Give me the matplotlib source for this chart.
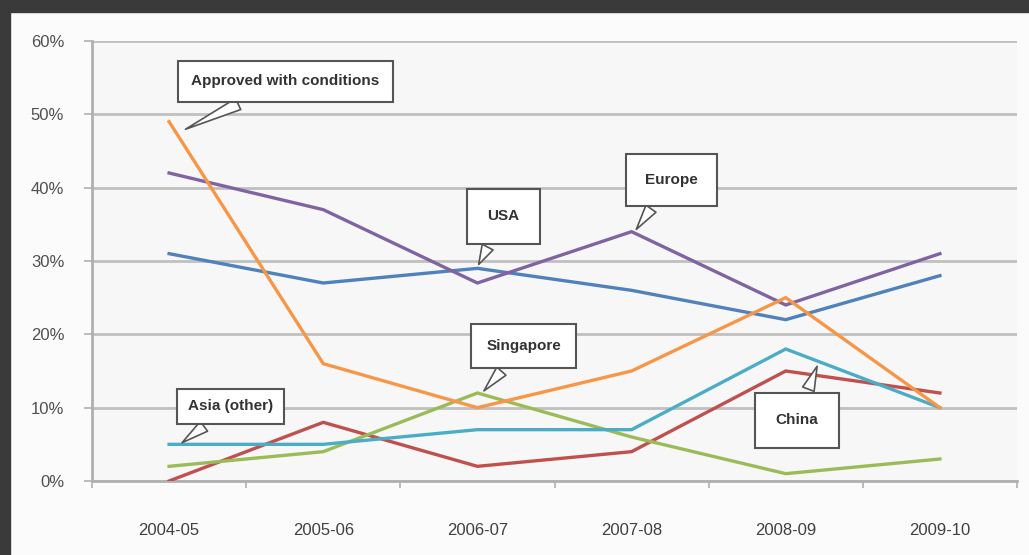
import matplotlib
matplotlib.use("Agg")
import matplotlib.pyplot as plt
from matplotlib.patches import Rectangle
from matplotlib.ticker import FuncFormatter, FixedLocator

years = ['2004-05', '2005-06', '2006-07', '2007-08', '2008-09', '2009-10']

usa = [0.31, 0.27, 0.29, 0.26, 0.22, 0.28]
china = [0.00, 0.08, 0.02, 0.04, 0.15, 0.12]
singapore = [0.02, 0.04, 0.12, 0.06, 0.01, 0.03]
europe = [0.42, 0.37, 0.27, 0.34, 0.24, 0.31]
asia_other = [0.05, 0.05, 0.07, 0.07, 0.18, 0.10]
approved = [0.49, 0.16, 0.10, 0.15, 0.25, 0.10]

series = [
    ('USA', usa, '#4F81BD'),
    ('China', china, '#C0504D'),
    ('Singapore', singapore, '#9BBB59'),
    ('Europe', europe, '#8064A2'),
    ('Asia (other)', asia_other, '#4BACC6'),
    ('Approved with conditions', approved, '#F79646'),
]

# callout label -> (point on line, box centre, box padding)
callouts = [
    ('Approved with conditions', (0.09, 0.478), (0.755, 0.545), 0.9),
    ('USA', (2.0, 0.292), (2.17, 0.361), 1.35),
    ('Europe', (3.02, 0.34), (3.26, 0.411), 1.25),
    ('Singapore', (2.03, 0.12), (2.30, 0.184), 1.0),
    ('Asia (other)', (0.07, 0.05), (0.40, 0.102), 0.7),
    ('China', (4.21, 0.16), (4.07, 0.083), 1.35),
]

plt.rcParams['font.family'] = ['Liberation Sans', 'DejaVu Sans']

fig = plt.figure(figsize=(10.29, 5.55), dpi=100)
fig.patch.set_facecolor('#fbfbfb')
ax = fig.add_axes([92 / 1029, 1 - 481 / 555, 925 / 1029, 440 / 555])
ax.set_facecolor('#f7f7f7')

x = list(range(len(years)))
for name, vals, col in series:
    ax.plot(x, vals, color=col, lw=2.4, solid_joinstyle='miter', zorder=3)

ax.set_xlim(-0.5, len(years) - 0.5)
ax.set_ylim(0, 0.6)
ax.set_yticks([i / 10 for i in range(7)])
ax.yaxis.set_major_formatter(FuncFormatter(lambda v, p: '%d%%' % round(v * 100)))
ax.grid(axis='y', color='#c0c0c0', lw=2, zorder=1)
ax.set_xticks(x)
ax.set_xticklabels(years)
ax.xaxis.set_minor_locator(FixedLocator([i - 0.5 for i in range(len(years) + 1)]))
ax.tick_params(axis='x', which='major', length=0, pad=30, labelsize=12, labelcolor='#404040')
ax.tick_params(axis='x', which='minor', length=5, width=1.2, color='#b0b0b0')
ax.tick_params(axis='y', length=6, width=1.2, color='#b0b0b0', pad=14, labelsize=12, labelcolor='#505050')
for s in ['top', 'right']:
    ax.spines[s].set_visible(False)
for s in ['left', 'bottom']:
    ax.spines[s].set_color('#b0b0b0')
    ax.spines[s].set_linewidth(2)

for label, pt, box, pad in callouts:
    ax.annotate(label, xy=pt, xytext=box, ha='center', va='center',
                fontsize=11, fontweight='bold', color='#333333', zorder=5,
                bbox=dict(boxstyle='square,pad=%.2f' % pad, fc='white', ec='#555555', lw=1.5),
                arrowprops=dict(arrowstyle='wedge,tail_width=0.8,shrink_factor=0.5',
                                fc='white', ec='#555555', lw=1.2))

# dark frame around the screenshot
fig.patches.append(Rectangle((0, 1 - 12 / 555), 1, 12 / 555, transform=fig.transFigure,
                             color='#3a3a3a', zorder=10))
fig.patches.append(Rectangle((0, 0), 10 / 1029, 1, transform=fig.transFigure,
                             color='#3a3a3a', zorder=10))

fig.savefig('out.png', dpi=100, facecolor=fig.get_facecolor())
